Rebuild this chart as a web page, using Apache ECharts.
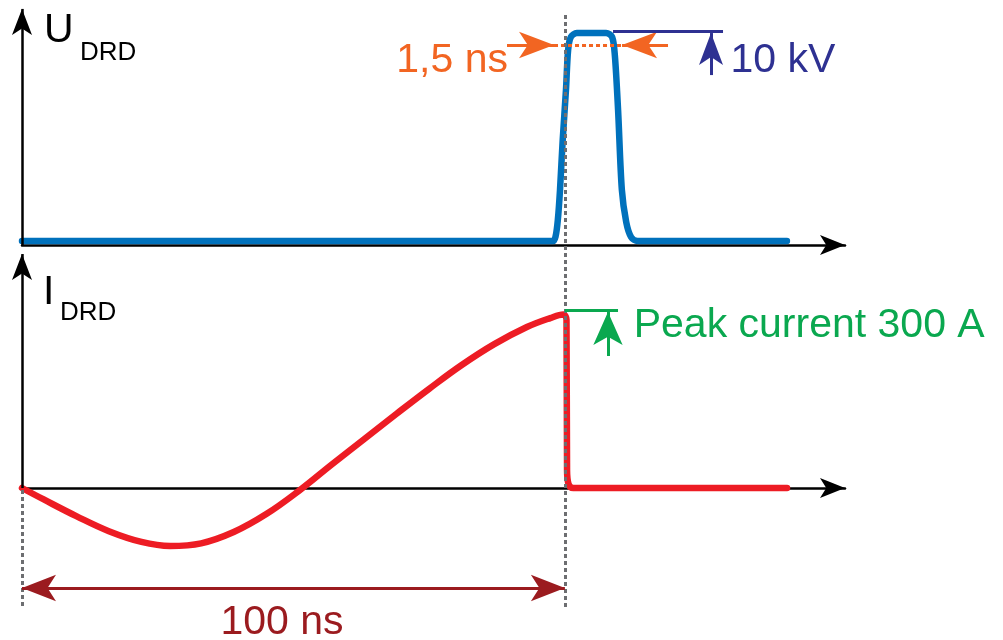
<!DOCTYPE html>
<html>
<head>
<meta charset="utf-8">
<script src="https://cdn.jsdelivr.net/npm/echarts@6/dist/echarts.min.js"></script>
<style>
  html, body { margin: 0; padding: 0; background: #ffffff; }
  #chart { width: 1003px; height: 640px; }
</style>
</head>
<body>
<div id="chart"></div>
<script>
// time axis in ns (schematic), voltage in kV, current in A
const timeU = [0, 97.8, 98.3, 98.7, 99.1, 99.6, 100.2, 100.6, 101.1, 102.2, 107.6, 108.7, 109.2, 109.8, 110.5, 111.3, 112.2, 113.4, 140.9];
const voltageKV = [0.19, 0.19, 0.43, 1.2, 2.64, 5.05, 7.45, 9.38, 10.0, 10.19, 10.19, 10.0, 9.13, 6.49, 2.64, 1.1, 0.38, 0.19, 0.19];

const timeI = [0, 4, 10, 16, 22, 27.3, 33, 39, 45, 51, 57, 63, 69, 75, 81, 87, 93, 97.3, 99.7, 100.3, 100.4, 100.67, 101.55, 140.92];
const currentA = [0, -19.8, -48.5, -74.5, -93, -100, -95.5, -76, -45, -5, 40, 84, 128, 171, 212, 248, 277.5, 293, 299, 290, 31, 6.9, 0, 0];

const chargeTime = 100;   // ns
const peakCurrent = 300;  // A
const pulseVoltage = 10;  // kV

const BLUE = '#0071bc', RED = '#ed1c24', GREEN = '#0aa84f', ORANGE = '#f26522',
      NAVY = '#2e3192', DARKRED = '#9b1b1f', GRAY = '#6d6e71';
const FONT = '"Liberation Sans", Arial, sans-serif';

const zip = (xs, ys) => xs.map((x, i) => [x, ys[i]]);

function arrowLine(from, to, color, size, width, bothEnds) {
  return [
    { coord: from, symbol: bothEnds ? 'arrow' : 'none', symbolSize: size,
      lineStyle: { color: color, width: width, type: 'solid' } },
    { coord: to, symbol: 'arrow', symbolSize: size }
  ];
}
function plainLine(from, to, color, width, type) {
  return [
    { coord: from, symbol: 'none', lineStyle: { color: color, width: width, type: type } },
    { coord: to, symbol: 'none' }
  ];
}

const chart = echarts.init(document.getElementById('chart'), null, { renderer: 'canvas' });

const axisArrow = {
  show: true, onZero: true,
  symbol: ['none', 'arrow'], symbolSize: [15, 25],
  lineStyle: { color: '#000', width: 2.5 }
};

const option = {
  animation: false,
  backgroundColor: '#ffffff',
  grid: { left: 22, right: 158, top: 0, bottom: 0 },
  xAxis: [
    { type: 'value', min: 0, max: 151.6, position: 'bottom',
      axisLine: Object.assign({ onZeroAxisIndex: 0 }, axisArrow),
      axisTick: { show: false }, axisLabel: { show: false }, splitLine: { show: false } },
    { type: 'value', min: 0, max: 151.6, position: 'top',
      axisLine: Object.assign({ onZeroAxisIndex: 1 }, axisArrow),
      axisTick: { show: false }, axisLabel: { show: false }, splitLine: { show: false } }
  ],
  yAxis: [
    { type: 'value', min: -18.99, max: 11.779, position: 'left',
      axisLine: { show: false }, axisTick: { show: false }, axisLabel: { show: false }, splitLine: { show: false } },
    { type: 'value', min: -262.07, max: 841.38, position: 'right',
      axisLine: { show: false }, axisTick: { show: false }, axisLabel: { show: false }, splitLine: { show: false } }
  ],
  series: [
    {
      name: 'U_DRD', type: 'line', xAxisIndex: 0, yAxisIndex: 0,
      data: zip(timeU, voltageKV),
      smooth: 0.3, showSymbol: false, silent: true,
      lineStyle: { color: BLUE, width: 6.5, cap: 'round', join: 'round' },
      markLine: {
        silent: true, animation: false, label: { show: false },
        lineStyle: { width: 3, opacity: 1 },
        data: [
          // U axis
          arrowLine([0, 0], [0, 11.35], '#000', [15, 26], 2.5),
          // 1,5 ns rise-time marker
          arrowLine([89.34, 9.615], [98.0, 9.615], ORANGE, [20, 35], 3),
          arrowLine([119.0, 9.615], [110.53, 9.615], ORANGE, [20, 35], 3),
          plainLine([98.0, 9.615], [110.53, 9.615], ORANGE, 3, [4, 3]),
          // 10 kV amplitude marker
          plainLine([108.87, 10.29], [129.13, 10.29], NAVY, 3, 'solid'),
          arrowLine([126.92, 8.17], [126.92, 10.19], NAVY, [18, 32], 3)
        ]
      }
    },
    {
      name: 'I_DRD', type: 'line', xAxisIndex: 1, yAxisIndex: 1,
      data: zip(timeI, currentA),
      smooth: 0.4, showSymbol: false, silent: true,
      lineStyle: { color: RED, width: 6.5, cap: 'round', join: 'round' },
      markLine: {
        silent: true, animation: false, label: { show: false },
        lineStyle: { width: 3, opacity: 1 },
        data: [
          // I axis
          arrowLine([0, 0], [0, 403.4], '#000', [15, 26], 2.5),
          // guides
          plainLine([0, -3.45], [0, -206.9], GRAY, 3, [4, 3]),
          plainLine([chargeTime, 815.5], [chargeTime, -206.9], GRAY, 3, [4, 3]),
          // peak current marker
          plainLine([chargeTime, 306.9], [109.79, 306.9], GREEN, 3, 'solid'),
          arrowLine([107.94, 227.6], [107.94, 303.4], GREEN, [22, 33], 3),
          // 100 ns
          arrowLine([0, -172.4], [chargeTime, -172.4], DARKRED, [20, 34], 3, true)
        ]
      }
    }
  ],
  graphic: [
    { type: 'text', x: 44, y: 9.7, style: { text: 'U', font: '41px ' + FONT, fill: '#000', textVerticalAlign: 'top' } },
    { type: 'text', x: 80, y: 40, style: { text: 'DRD', font: '26px ' + FONT, fill: '#000', textVerticalAlign: 'top' } },
    { type: 'text', x: 43, y: 271.7, style: { text: 'I', font: '41px ' + FONT, fill: '#000', textVerticalAlign: 'top' } },
    { type: 'text', x: 60, y: 300, style: { text: 'DRD', font: '26px ' + FONT, fill: '#000', textVerticalAlign: 'top' } },
    { type: 'text', x: 508, y: 40.3, style: { text: '1,5 ns', font: '41px ' + FONT, fill: ORANGE, textAlign: 'right', textVerticalAlign: 'top' } },
    { type: 'text', x: 730.5, y: 40.3, style: { text: pulseVoltage + ' kV', font: '41px ' + FONT, fill: NAVY, textVerticalAlign: 'top' } },
    { type: 'text', x: 633.7, y: 305.3, style: { text: 'Peak current ' + peakCurrent + ' A', font: '41px ' + FONT, fill: GREEN, textVerticalAlign: 'top' } },
    { type: 'text', x: 220.5, y: 602.3, style: { text: chargeTime + ' ns', font: '41px ' + FONT, fill: DARKRED, textVerticalAlign: 'top' } }
  ]
};

chart.setOption(option);
window.addEventListener('resize', () => chart.resize());
</script>
</body>
</html>
